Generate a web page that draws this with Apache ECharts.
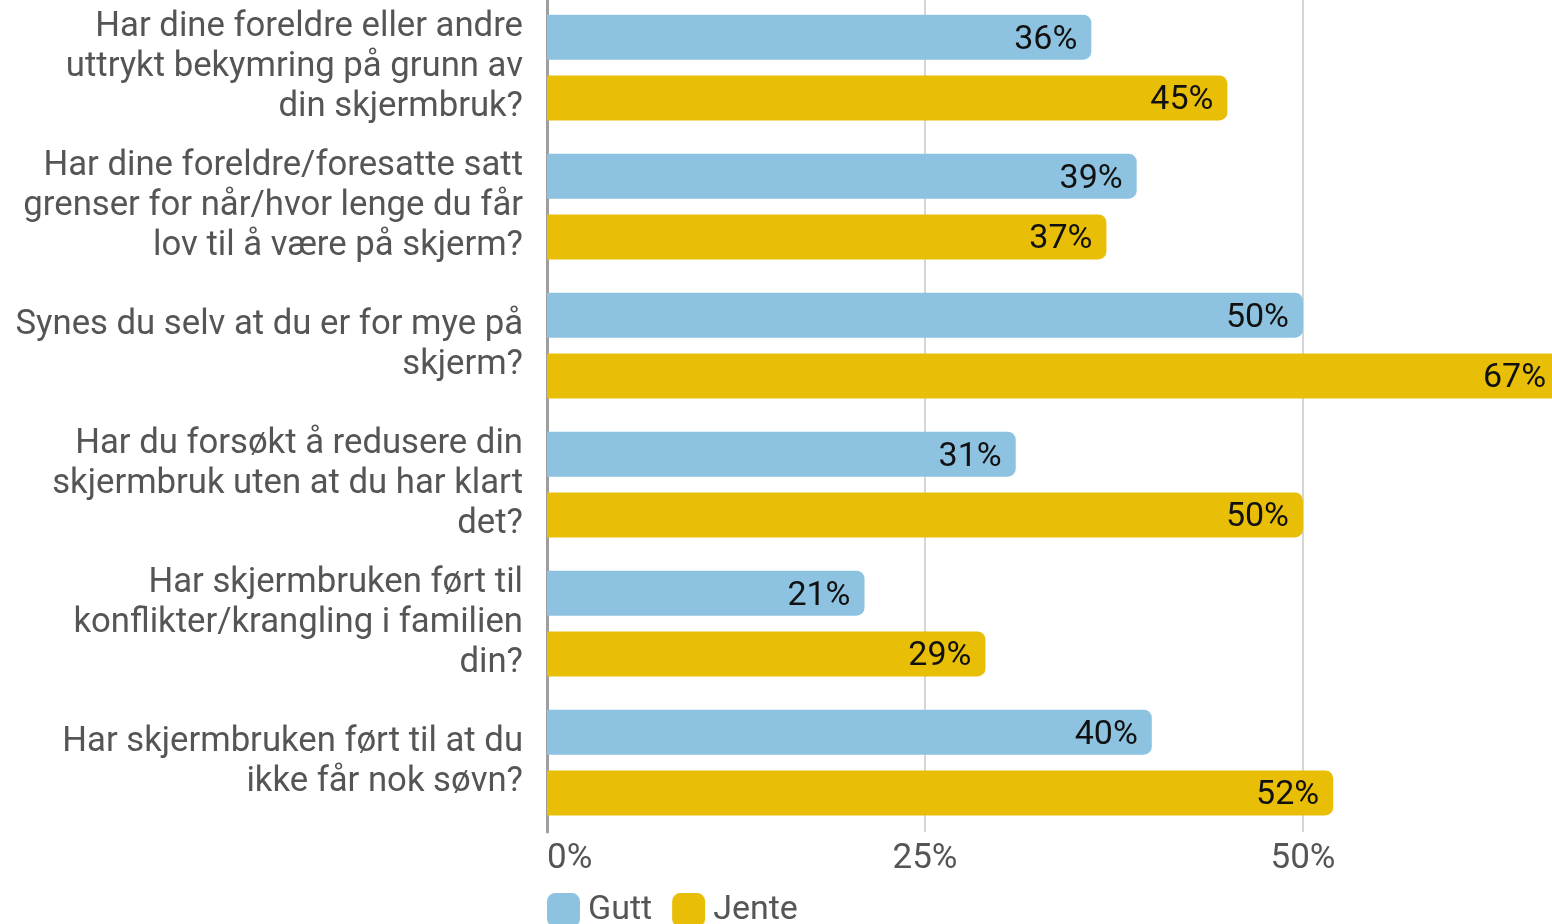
<!DOCTYPE html>
<html>
<head>
<meta charset="utf-8">
<script src="https://cdn.jsdelivr.net/npm/echarts@6/dist/echarts.min.js"></script>
<style>
  html, body { margin: 0; padding: 0; background: #fff; overflow: hidden; }
  /* plottet går forbi høyre kant, som i originalen */
  #chart { width: 1700px; height: 924px; }
</style>
</head>
<body>
<div id="chart"></div>
<script>
// spørsmål (kategorier), linjeskift som i originalen
const categories = [
  "Har dine foreldre eller andre\nuttrykt bekymring på grunn av\ndin skjermbruk?",
  "Har dine foreldre/foresatte satt\ngrenser for når/hvor lenge du får\nlov til å være på skjerm?",
  "Synes du selv at du er for mye på\nskjerm?",
  "Har du forsøkt å redusere din\nskjermbruk uten at du har klart\ndet?",
  "Har skjermbruken ført til\nkonflikter/krangling i familien\ndin?",
  "Har skjermbruken ført til at du\nikke får nok søvn?"
];
const seriesNames = ["Gutt", "Jente"];
const gutt = [36, 39, 50, 31, 21, 40];
const jente = [45, 37, 67, 50, 29, 52];

const colors = ["#8dc3e0", "#e9be06"];
const font = "Roboto, 'Noto Sans', sans-serif";

const chart = echarts.init(document.getElementById("chart"), null, { width: 1700, height: 924 });

function barSeries(name, data, color) {
  return {
    name: name,
    type: "bar",
    data: data,
    barWidth: 45,
    barGap: "35%",
    itemStyle: { color: color, borderRadius: [0, 8, 8, 0] },
    label: {
      show: true,
      position: "insideRight",
      distance: 14,
      offset: [0, 3],
      formatter: "{c}%",
      color: "#111",
      fontFamily: font,
      fontSize: 34
    }
  };
}

chart.setOption({
  backgroundColor: "#fff",
  animation: false,
  color: colors,
  grid: {
    left: 547, width: 1134, top: -2, bottom: 92,
    containLabel: false,
    outerBoundsMode: "none"
  },
  legend: {
    data: seriesNames,
    left: 547,
    top: 893,
    padding: 0,
    itemWidth: 33,
    itemHeight: 34,
    itemGap: 20,
    icon: "roundRect",
    textStyle: { color: "#555", fontFamily: font, fontSize: 34, padding: [0, 0, 0, 3] }
  },
  xAxis: {
    type: "value",
    min: 0,
    max: 75,
    interval: 25,
    axisLine: { show: false },
    axisTick: { show: false },
    splitLine: { show: true, lineStyle: { color: "#c8c8c8", width: 1.5 } },
    axisLabel: {
      formatter: "{value}%",
      color: "#555",
      fontFamily: font,
      fontSize: 35,
      margin: 10,
      alignMinLabel: "left"
    }
  },
  yAxis: {
    type: "category",
    data: categories,
    inverse: true,
    axisLine: { show: true, lineStyle: { color: "#9e9e9e", width: 3 } },
    axisTick: { show: false },
    axisLabel: {
      color: "#555",
      fontFamily: font,
      fontSize: 34.7,
      lineHeight: 40,
      align: "right",
      margin: 24,
      padding: [16, 0, 0, 0]
    }
  },
  series: [
    barSeries(seriesNames[0], gutt, colors[0]),
    barSeries(seriesNames[1], jente, colors[1])
  ]
});
</script>
</body>
</html>
